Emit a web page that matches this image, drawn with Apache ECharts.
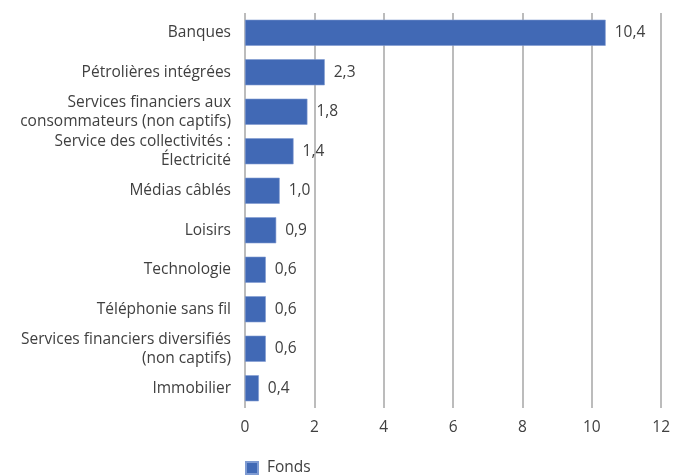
<!DOCTYPE html>
<html><head><meta charset="utf-8">
<script src="https://cdn.jsdelivr.net/npm/echarts@6/dist/echarts.min.js"></script>
<style>html,body{margin:0;padding:0;background:#fff}#c{width:673px;height:475px}</style>
</head><body><div id="c"></div>
<script>
const categories = ["Banques","Pétrolières intégrées","Services financiers aux\nconsommateurs (non captifs)","Service des collectivités :\nÉlectricité","Médias câblés","Loisirs","Technologie","Téléphonie sans fil","Services financiers diversifiés\n(non captifs)","Immobilier"];
const fonds = [10.4, 2.3, 1.8, 1.4, 1.0, 0.9, 0.6, 0.6, 0.6, 0.4];
const seriesName = "Fonds";
const xTicks = [0, 2, 4, 6, 8, 10, 12];

const chart = echarts.init(document.getElementById('c'), null, {renderer:'canvas'});
const font = "'Open Sans', sans-serif";
const fs = 15.5;
chart.setOption({
  animation:false,
  textStyle:{fontFamily:font},
  grid:{left:245, right:10, top:13, bottom:67, containLabel:false},
  legend:{data:[seriesName], top:455, left:240, padding:5, itemWidth:12, itemHeight:12, icon:'rect', itemGap:10,
    textStyle:{fontFamily:font, fontSize:fs, color:'#404040', padding:[0,0,0,4]}},
  xAxis:{type:'value', min:xTicks[0], max:xTicks[xTicks.length-1], interval:2,
    axisLine:{show:false}, axisTick:{show:false},
    splitLine:{show:true, lineStyle:{color:'#a6a6a6', width:1.5}},
    axisLabel:{fontFamily:font, fontSize:fs, color:'#404040', margin:12}},
  yAxis:{type:'category', data:categories, inverse:true,
    axisLine:{show:false}, axisTick:{show:false},
    axisLabel:{fontFamily:font, fontSize:fs, color:'#404040', margin:14, lineHeight:19, align:'right'}},
  series:[{name:seriesName, type:'bar', data:fonds, barCategoryGap:'34%',
    itemStyle:{color:'#4169b5', borderColor:'#7f9bd2', borderWidth:0.6},
    label:{show:true, position:'right', distance:9, fontFamily:font, fontSize:fs, color:'#404040',
      formatter:p=>p.value.toFixed(1).replace('.',',')}}]
});
</script></body></html>
